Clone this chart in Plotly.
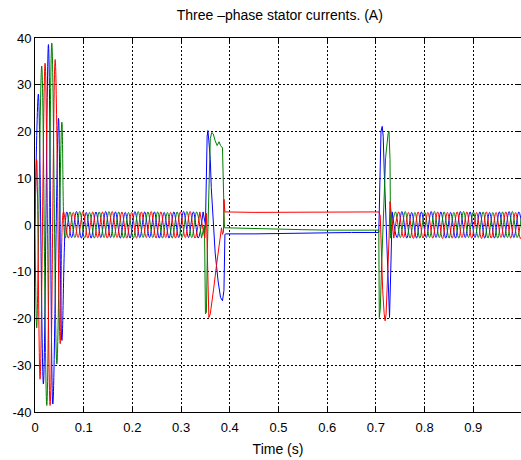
import numpy as np
import plotly.graph_objects as go

# ---------------- data ----------------
PEAK_SPACING = 0.01  # time between successive positive/negative peaks (s)

# start-up transient: peak times (s) and peak values (A)
blue_start_t = [0.0, 0.0069, 0.0172, 0.0276, 0.0366, 0.0483, 0.0552]
blue_start_v = [0.0, 28.0, -34.0, 38.6, -38.3, 22.8, -24.7]
green_start_t = [0.0, 0.0035, 0.0138, 0.0242, 0.0345, 0.0449, 0.0552]
green_start_v = [0.0, -22.0, 34.0, -38.6, 38.9, -29.7, 22.0]
red_start_t = [0.0, 0.0035, 0.0104, 0.0207, 0.0310, 0.0414, 0.0518]
red_start_v = [0.0, 14.0, -33.0, 34.6, -38.6, 35.4, -25.4]

# first steady state: start time of peaks and successive peak values
blue_ss1_t0 = 0.0652
blue_ss1_v = [2.8, -2.7, 2.9, -2.8, 2.7, -2.8, 2.8, -2.7, 2.9, -2.7, 2.8, -2.8, 2.7, -2.8,
              2.9, -2.7, 2.8, -2.7, 2.8, -2.8, 2.7, -2.8, 2.8, -2.7, 2.9, -2.7, 2.8, -2.8, 2.8]
green_ss1_t0 = 0.0619
green_ss1_v = [-2.8, 2.8, -2.7, 2.9, -2.8, 2.7, -2.8, 2.8, -2.7, 2.9, -2.7, 2.8, -2.8, 2.7,
               -2.8, 2.9, -2.7, 2.8, -2.7, 2.8, -2.8, 2.7, -2.8, 2.8, -2.7, 2.9, -2.7, 2.8, -2.8]
red_ss1_t0 = 0.0585
red_ss1_v = [2.8, -2.8, 2.7, -2.7, 2.9, -2.8, 2.8, -2.7, 2.8, -2.8, 2.9, -2.7, 2.8, -2.8,
             2.7, -2.8, 2.8, -2.7, 2.9, -2.8, 2.8, -2.7, 2.7, -2.8, 2.8, -2.7, 2.9, -2.8, 2.8]

# load transients and DC interval
blue_mid_t = [0.3452, 0.350, 0.3535, 0.355, 0.357, 0.360, 0.362, 0.366, 0.370, 0.376, 0.381,
              0.385, 0.388, 0.390, 0.392, 0.45, 0.50, 0.55, 0.60, 0.65, 0.706, 0.708, 0.7105,
              0.713, 0.715, 0.717, 0.720, 0.723, 0.726, 0.728, 0.7305, 0.7335]
blue_mid_v = [2.8, 0.0, 19.0, 20.2, 18.0, 14.0, 8.0, 0.0, -6.0, -12.0, -15.5,
              -16.2, -14.0, -2.0, -1.9, -1.9, -1.8, -1.75, -1.65, -1.6, -1.6, 12.0, 20.0,
              21.1, 19.0, 12.0, 2.0, -8.0, -17.0, -19.8, -10.0, 2.8]
green_mid_t = [0.3419, 0.348, 0.350, 0.352, 0.354, 0.357, 0.360, 0.363, 0.366, 0.370, 0.374,
               0.378, 0.381, 0.385, 0.387, 0.389, 0.392, 0.45, 0.50, 0.55, 0.60, 0.65, 0.706,
               0.707, 0.709, 0.712, 0.716, 0.720, 0.725, 0.727, 0.729, 0.7302]
green_mid_v = [-2.8, 0.0, -19.0, -18.7, -5.0, 10.0, 18.5, 19.8, 19.5, 18.0, 17.0,
               17.8, 17.0, 16.5, 8.0, -0.6, -0.6, -0.8, -0.9, -1.0, -1.1, -1.15, -1.1,
               -19.8, -18.0, -8.0, 5.0, 14.4, 19.5, 20.0, 14.0, -2.8]
red_mid_t = [0.3385, 0.3485, 0.352, 0.354, 0.357, 0.360, 0.363, 0.367, 0.373, 0.380, 0.383,
             0.385, 0.387, 0.388, 0.390, 0.45, 0.55, 0.65, 0.706, 0.709, 0.711, 0.714, 0.717,
             0.719, 0.721, 0.724, 0.727, 0.729, 0.7368]
red_mid_v = [2.8, -2.8, 2.5, -10.0, -19.8, -19.0, -16.0, -13.5, -8.4, -2.7, -0.6,
             -2.0, -1.5, 5.5, 2.8, 2.7, 2.7, 2.75, 2.8, 2.0, -5.0, -14.0, -19.0,
             -20.5, -19.0, -12.0, -3.0, 5.0, -2.8]

# second steady state
blue_ss2_t0 = 0.7335
blue_ss2_v = [2.8, -2.7, 2.9, -2.8, 2.7, -2.8, 2.8, -2.7, 2.9, -2.7, 2.8, -2.8, 2.7, -2.8,
              2.9, -2.7, 2.8, -2.7, 2.8, -2.8, 2.7, -2.8, 2.8, -2.7, 2.9, -2.7, 2.8, -2.8]
green_ss2_t0 = 0.7302
green_ss2_v = [-2.8, 2.8, -2.7, 2.9, -2.8, 2.7, -2.8, 2.8, -2.7, 2.9, -2.7, 2.8, -2.8, 2.7,
               -2.8, 2.9, -2.7, 2.8, -2.7, 2.8, -2.8, 2.7, -2.8, 2.8, -2.7, 2.9, -2.7, 2.8]
red_ss2_t0 = 0.7368
red_ss2_v = [-2.8, 2.8, -2.7, 2.7, -2.9, 2.8, -2.8, 2.7, -2.8, 2.8, -2.9, 2.7, -2.8, 2.8,
             -2.7, 2.8, -2.8, 2.7, -2.9, 2.8, -2.8, 2.7, -2.7, 2.8, -2.8, 2.7, -2.9, 2.8]

x_tick_vals = [0, 0.1, 0.2, 0.3, 0.4, 0.5, 0.6, 0.7, 0.8, 0.9]
x_tick_text = ["0", "0.1", "0.2", "0.3", "0.4", "0.5", "0.6", "0.7", "0.8", "0.9"]
y_tick_vals = [-40, -30, -20, -10, 0, 10, 20, 30, 40]
y_tick_text = ["-40", "-30", "-20", "-10", "0", "10", "20", "30", "40"]

# ---------------- figure ----------------
def peak_times(t0, vals):
    return list(t0 + PEAK_SPACING * np.arange(len(vals)))

phases = [
    ("#0000FF", blue_start_t, blue_start_v, blue_ss1_t0, blue_ss1_v, blue_mid_t, blue_mid_v, blue_ss2_t0, blue_ss2_v),
    ("#008000", green_start_t, green_start_v, green_ss1_t0, green_ss1_v, green_mid_t, green_mid_v, green_ss2_t0, green_ss2_v),
    ("#FF0000", red_start_t, red_start_v, red_ss1_t0, red_ss1_v, red_mid_t, red_mid_v, red_ss2_t0, red_ss2_v),
]

fig = go.Figure()
for color, st, sv, t1, v1, mt, mv, t2, v2 in phases:
    fig.add_trace(go.Scatter(x=st + peak_times(t1, v1), y=sv + v1, mode="lines",
                             line=dict(color=color, width=1, shape="spline"), hoverinfo="skip"))
    fig.add_trace(go.Scatter(x=mt, y=mv, mode="lines",
                             line=dict(color=color, width=1), hoverinfo="skip"))
    fig.add_trace(go.Scatter(x=peak_times(t2, v2), y=v2, mode="lines",
                             line=dict(color=color, width=1, shape="spline"), hoverinfo="skip"))

axis_common = dict(
    showline=True, linecolor="black", linewidth=1, mirror="ticks",
    ticks="inside", ticklen=4, tickcolor="black",
    showgrid=True, gridcolor="black", gridwidth=1, griddash="2px,2px",
    zeroline=False, tickfont=dict(size=13, color="black"), automargin=False,
)

fig.update_layout(
    width=521, height=460,
    margin=dict(l=35, r=0, t=38, b=48),
    paper_bgcolor="white", plot_bgcolor="white",
    showlegend=False,
    font=dict(family="Liberation Sans, Arial, sans-serif", size=13, color="black"),
    title=dict(text="Three \u2013phase stator currents. (A)", xref="container", x=0.537,
               xanchor="center", yref="container", y=0.967, yanchor="middle",
               font=dict(size=14, color="black")),
    xaxis=dict(range=[0, 0.998], tickvals=x_tick_vals, ticktext=x_tick_text,
               ticklabelstandoff=3,
               title=dict(text="Time (s)", font=dict(size=14), standoff=10), **axis_common),
    yaxis=dict(range=[-40, 40], tickvals=y_tick_vals, ticktext=y_tick_text, **axis_common),
)

fig.write_html("out.html", config={"displayModeBar": False},
               post_script="document.body.style.margin='0';")
